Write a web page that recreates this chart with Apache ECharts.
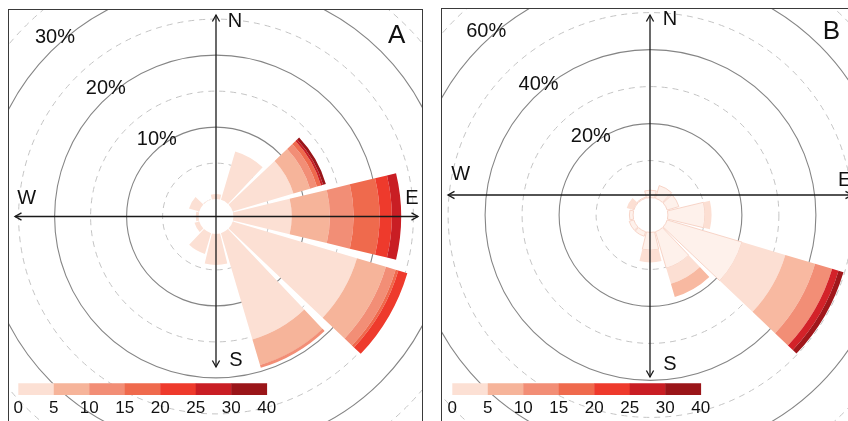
<!DOCTYPE html>
<html><head><meta charset="utf-8">
<script src="https://cdn.jsdelivr.net/npm/echarts@6/dist/echarts.min.js"></script>
<style>
html,body{margin:0;padding:0;width:848px;height:421px;overflow:hidden;background:#fff;}
.frame{position:absolute;border:1px solid #3a3a3a;box-sizing:border-box;overflow:hidden;background:#fff;}
.chart{position:absolute;left:0;top:0;}
</style></head><body>
<div class="frame" style="left:8px;top:9px;width:415px;height:430px;"><div class="chart" id="ca" style="width:413px;height:428px;"></div></div>
<div class="frame" style="left:441px;top:8px;width:430px;height:430px;"><div class="chart" id="cb" style="width:428px;height:428px;"></div></div>
<script>
// ---- data ----
const directions = ['N','NNE','ENE','E','ESE','SSE','S','SSW','WSW','W','WNW','NNW'];
const speedBins = ['0-5','5-10','10-15','15-20','20-25','25-30','30-40'];
const binEdges = ['0','5','10','15','20','25','30','40'];
const binColors = ['#FCE0D4','#F6B49A','#F28E76','#EF6A4D','#EE3A2C','#C91E24','#9A1519'];
const barColorsB = ['#FEF1EB','#FCDFD3','#F8B9A1','#F28E76','#EE3A2C','#D32229','#A0171B'];

// Panel A: frequency (%) per speed bin, by direction
const a_0_5   = [0.7, 7.0, 8.8, 8.1, 18.0, 15.4, 4.3, 3.0, 0.7, 0.4, 1.5, 0.1];
const a_5_10  = [0, 0, 2.4, 5.3, 4.2, 3.7, 0, 0, 0, 0, 0, 0];
const a_10_15 = [0, 0, 1.0, 3.3, 1.4, 0.4, 0, 0, 0, 0, 0, 0];
const a_15_20 = [0, 0, 0.6, 3.6, 0.4, 0, 0, 0, 0, 0, 0, 0];
const a_20_25 = [0, 0, 0, 1.7, 1.3, 0, 0, 0, 0, 0, 0, 0];
const a_25_30 = [0, 0, 0.3, 1.3, 0, 0, 0, 0, 0, 0, 0, 0];
const a_30_40 = [0, 0, 0.4, 0, 0, 0, 0, 0, 0, 0, 0, 0];

// Panel B
const b_0_5   = [2.0, 3.6, 3.3, 10.0, 21.1, 10.3, 4.8, 1.3, 1.3, 1.0, 0.3, 0.3];
const b_5_10  = [0, 0, 0, 1.8, 12.2, 4.4, 3.3, 0, 0, 0, 1.7, 0];
const b_10_15 = [0, 0, 0, 0, 8.4, 3.7, 0, 0, 0, 0, 0, 0];
const b_15_20 = [0, 0, 0, 0, 4.8, 0, 0, 0, 0, 0, 0, 0];
const b_20_25 = [0, 0, 0, 0, 0, 0, 0, 0, 0, 0, 0, 0];
const b_25_30 = [0, 0, 0, 0, 1.8, 0, 0, 0, 0, 0, 0, 0];
const b_30_40 = [0, 0, 0, 0, 1.4, 0, 0, 0, 0, 0, 0, 0];

const ringTicksA = [10, 20, 30];
const ringTicksB = [20, 40, 60];
const compass = ['N','E','S','W'];

const FONT = "'Liberation Sans', Arial, Helvetica, sans-serif";

function arrowHead(x, y, dir) {
  const L = 6.5, H = 3.6;
  let pts;
  if (dir === 'l') pts = [[x+L, y-H],[x, y],[x+L, y+H]];
  if (dir === 'r') pts = [[x-L, y-H],[x, y],[x-L, y+H]];
  if (dir === 'u') pts = [[x-H, y+L],[x, y],[x+H, y+L]];
  if (dir === 'd') pts = [[x-H, y-L],[x, y],[x+H, y-L]];
  return {type:'polyline', shape:{points:pts}, style:{stroke:'#1a1a1a', lineWidth:1.3, fill:null}, z:100};
}

function buildPanel(id, p) {
  const chart = echarts.init(document.getElementById(id), null, {renderer:'canvas'});
  const series = speedBins.map((bin, i) => ({
    type:'bar', name: bin, coordinateSystem:'polar', polarIndex:0, stack:'freq',
    data: p.values[i], barCategoryGap:'10%', silent:true, z:3,
    itemStyle: (i === 0 && p.firstBorder)
      ? {color:p.colors[i], borderColor:p.firstBorder, borderWidth:0.9}
      : {color:p.colors[i]}
  }));
  series.push({
    type:'scatter', coordinateSystem:'polar', polarIndex:1, silent:true, z:20,
    symbolSize:0, itemStyle:{color:'rgba(0,0,0,0)'},
    data: p.ticks.map(t => [t, 315])
  });
  const labelSeriesIndex = series.length - 1;
  const g = [];
  g.push({type:'circle', shape:{cx:p.center[0], cy:p.center[1], r:p.r0 + 1}, style:{fill:'#fff'}, z:1, silent:true});
  const ax = p.axes;
  g.push({type:'line', shape:{x1:ax.x1, y1:ax.hy, x2:ax.x2, y2:ax.hy}, style:{stroke:'#1a1a1a', lineWidth:1.3}, z:100});
  g.push({type:'line', shape:{x1:ax.vx, y1:ax.y1, x2:ax.vx, y2:ax.y2}, style:{stroke:'#1a1a1a', lineWidth:1.3}, z:100});
  g.push(arrowHead(ax.x1, ax.hy, 'l'), arrowHead(ax.x2, ax.hy, 'r'), arrowHead(ax.vx, ax.y1, 'u'), arrowHead(ax.vx, ax.y2, 'd'));
  compass.forEach((c, i) => {
    const pos = p.compassPos[i];
    g.push({type:'text', x:pos[0], y:pos[1], z:101, style:{text:c, fontSize:20, fontFamily:FONT, fill:'#111', align:'center', verticalAlign:'middle'}});
  });
  g.push({type:'text', x:p.letterPos[0], y:p.letterPos[1], z:101, style:{text:p.letter, fontSize:26, fontFamily:FONT, fill:'#111', align:'center', verticalAlign:'middle'}});
  const lg = p.legend;
  const w = (lg.x2 - lg.x1) / speedBins.length;
  binColors.forEach((c, i) => {
    g.push({type:'rect', shape:{x:lg.x1 + i*w, y:lg.y, width:w + 0.4, height:lg.h}, style:{fill:c}, z:100});
  });
  binEdges.forEach((e, i) => {
    g.push({type:'text', x:lg.x1 + i*w, y:lg.ty, z:101, style:{text:e, fontSize:17, fontFamily:FONT, fill:'#111', align:'center', verticalAlign:'middle'}});
  });

  chart.setOption({
    animation:false,
    polar:[
      {center:p.center, radius:[p.r0, p.r0 + p.k * p.max]},
      {center:p.center, radius:[p.r0, p.r0 + p.k * p.max]}
    ],
    angleAxis:[
      {polarIndex:0, type:'category', data:directions, startAngle:105, clockwise:true, boundaryGap:true,
       axisLine:{show:false}, axisTick:{show:false}, axisLabel:{show:false}, splitLine:{show:false}},
      {polarIndex:1, type:'value', min:0, max:360, startAngle:90, clockwise:true,
       axisLine:{show:false}, axisTick:{show:false}, axisLabel:{show:false}, splitLine:{show:false}}
    ],
    radiusAxis:[
      {polarIndex:0, type:'value', min:0, max:p.max, interval:p.interval,
       axisLine:{show:false}, axisTick:{show:false}, axisLabel:{show:false},
       splitLine:{show:true, lineStyle:{color:'#858585', width:1.1}},
       minorTick:{show:false, splitNumber:2},
       minorSplitLine:{show:true, lineStyle:{color:'#c4c4c4', width:1, type:[6,5]}}},
      {polarIndex:1, type:'value', min:0, max:p.max,
       axisLine:{show:false}, axisTick:{show:false}, axisLabel:{show:false}, splitLine:{show:false}}
    ],
    graphic:{elements:g},
    series:series
  });
  const extra = p.ticks.map(t => {
    const pt = chart.convertToPixel({seriesIndex:labelSeriesIndex}, [t, 315]);
    return {type:'text', x:pt[0] + p.labelOffset[0], y:pt[1] + p.labelOffset[1], z:101,
      style:{text:t + '%', fontSize:20, fontFamily:FONT, fill:'#111', align:'center', verticalAlign:'middle'}};
  });
  chart.setOption({graphic:{elements:g.concat(extra)}}, {replaceMerge:['graphic']});
  return chart;
}

buildPanel('ca', {
  values:[a_0_5, a_5_10, a_10_15, a_15_20, a_20_25, a_25_30, a_30_40],
  colors:binColors,
  center:[207, 206.5], r0:17.4, k:7.2, max:40, interval:10,
  ticks:ringTicksA, labelOffset:[4,-14],
  axes:{x1:6, x2:409, hy:206.5, vx:207, y1:5, y2:357},
  compassPos:[[226,11.7],[403,188],[227,350],[17.7,188]],
  letter:'A', letterPos:[387.7,26],
  legend:{x1:9.3, x2:257.7, y:373.3, h:11.7, ty:398}
});
buildPanel('cb', {
  values:[b_0_5, b_5_10, b_10_15, b_15_20, b_20_25, b_25_30, b_30_40],
  colors:barColorsB, firstBorder:'#F6D0C3',
  center:[208.5, 206], r0:17.4, k:3.7, max:80, interval:20,
  ticks:ringTicksB, labelOffset:[5,-14],
  axes:{x1:6, x2:410, hy:186, vx:208, y1:6, y2:368},
  compassPos:[[228,10.3],[402.7,171],[228,355],[18.7,165]],
  letter:'B', letterPos:[389.3,22.7],
  legend:{x1:10.3, x2:258.7, y:374.3, h:11.7, ty:399}
});
</script>
</body></html>
